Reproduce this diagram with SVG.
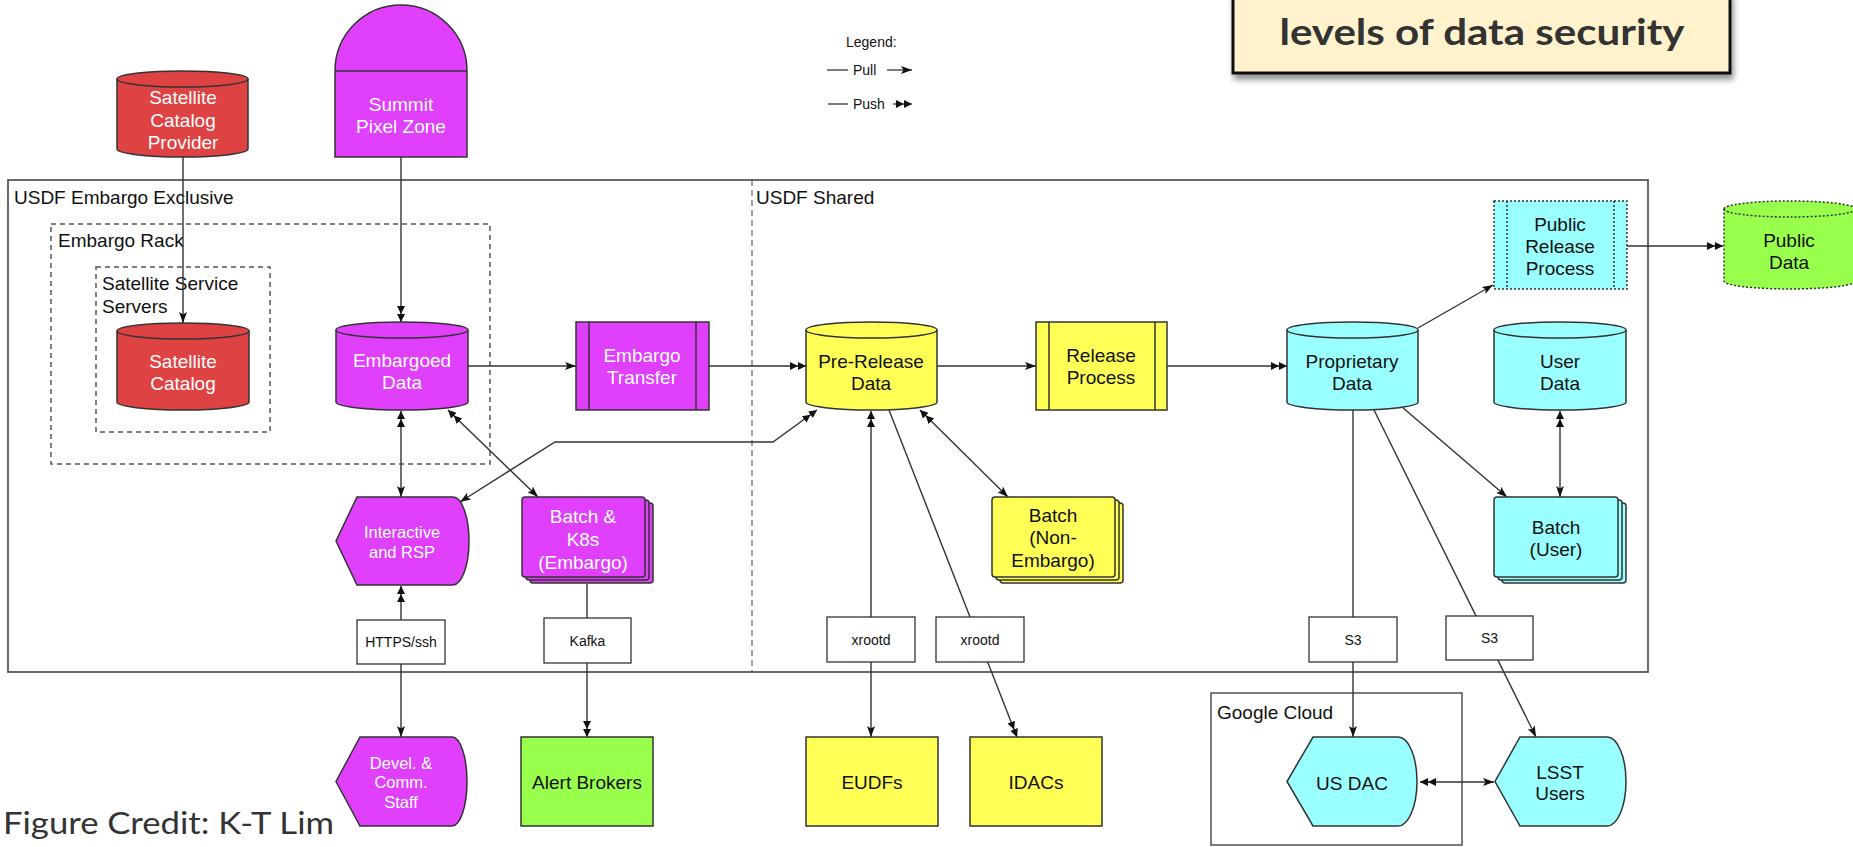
<svg xmlns="http://www.w3.org/2000/svg" width="1853" height="847" viewBox="0 0 1853 847">
<style>
text{font-family:"Liberation Sans",Arial,sans-serif;}
.lbl{font-size:19px;text-anchor:middle;dominant-baseline:central;}
.sm{font-size:16.5px;text-anchor:middle;dominant-baseline:central;}
.w{fill:#ffffff;}
.k{fill:#111111;}
.frameT{font-size:19px;fill:#111;}
.node{stroke:#333;stroke-width:1.5;}
.red{fill:#DF4242;}
.mag{fill:#E040FB;}
.yel{fill:#FFFF55;}
.cyn{fill:#99FFFF;}
.grn{fill:#99FF4D;}
.edge{fill:none;stroke:#333;stroke-width:1.4;}
.ebox{fill:#fff;stroke:#333;stroke-width:1.3;}
.etxt{font-size:14px;text-anchor:middle;dominant-baseline:central;fill:#111;}
.dot{stroke-dasharray:2,2;}
</style>
<defs>
<marker id="pull" viewBox="0 0 11 8" refX="11" refY="4" markerWidth="11" markerHeight="8" markerUnits="userSpaceOnUse" orient="auto-start-reverse"><path d="M0,0 L11,4 L0,8 L2.5,4 Z" fill="#111"/></marker>
<marker id="push" viewBox="0 0 16 8" refX="16" refY="4" markerWidth="16" markerHeight="8" markerUnits="userSpaceOnUse" orient="auto-start-reverse"><path d="M0,0 L8,4 L0,8 Z M8,0 L16,4 L8,8 Z" fill="#111"/></marker>
<filter id="shadow" x="-5%" y="-20%" width="115%" height="150%"><feDropShadow dx="2" dy="5" stdDeviation="3" flood-color="#000" flood-opacity="0.45"/></filter>
</defs>
<rect x="0" y="0" width="1853" height="847" fill="#ffffff"/>

<!-- containers -->
<g id="usdf-frame">
<rect x="8" y="180" width="1640" height="492" fill="none" stroke="#444" stroke-width="1.6"/>
<line x1="752" y1="180" x2="752" y2="672" stroke="#444" stroke-width="1" stroke-dasharray="6,4"/>
<text class="frameT" x="14" y="204">USDF Embargo Exclusive</text>
<text class="frameT" x="756" y="204">USDF Shared</text>
</g>
<g id="embargo-rack">
<rect x="51" y="224" width="439" height="240" fill="none" stroke="#555" stroke-width="1.5" stroke-dasharray="5,4"/>
<text class="frameT" x="58" y="247">Embargo Rack</text>
</g>
<g id="satellite-servers">
<rect x="96" y="267" width="174" height="165" fill="none" stroke="#555" stroke-width="1.5" stroke-dasharray="5,4"/>
<text class="frameT" x="102" y="290">Satellite Service</text>
<text class="frameT" x="102" y="313">Servers</text>
</g>
<g id="google-cloud">
<rect x="1211" y="693" width="251" height="152" fill="none" stroke="#444" stroke-width="1.4"/>
<text class="frameT" x="1217" y="719">Google Cloud</text>
</g>

<!-- title and legend -->
<g id="title">
<rect x="1233" y="-6" width="497" height="79" fill="#FFF2CC" stroke="#111" stroke-width="3" filter="url(#shadow)"/>
<text x="1482" y="45" text-anchor="middle" style="font-family:Lato,'Open Sans',sans-serif;font-weight:bold;font-size:36px;fill:#333" textLength="405" lengthAdjust="spacingAndGlyphs">levels of data security</text>
</g>
<g id="legend">
<text x="846" y="47" style="font-size:14px;fill:#111">Legend:</text>
<line x1="827" y1="70" x2="848" y2="70" stroke="#444" stroke-width="1.4"/>
<text x="853" y="75" style="font-size:14px;fill:#111">Pull</text>
<line x1="887" y1="70" x2="912" y2="70" stroke="#444" stroke-width="1.4" marker-end="url(#pull)"/>
<line x1="828" y1="104" x2="848" y2="104" stroke="#444" stroke-width="1.4"/>
<text x="853" y="109" style="font-size:14px;fill:#111">Push</text>
<line x1="893" y1="104" x2="912" y2="104" stroke="#444" stroke-width="1.4" marker-end="url(#push)"/>
</g>
<g id="credit">
<text x="3" y="834" style="font-family:Lato,'Open Sans',sans-serif;font-size:30px;fill:#333" textLength="331" lengthAdjust="spacingAndGlyphs">Figure Credit: K-T Lim</text>
</g>

<!-- connectors -->
<g id="connectors">
<line class="edge" x1="183" y1="157" x2="183" y2="323" marker-end="url(#pull)"/>
<line class="edge" x1="401" y1="157" x2="401" y2="322" marker-end="url(#push)"/>
<line class="edge" x1="468" y1="366" x2="576" y2="366" marker-end="url(#pull)"/>
<line class="edge" x1="709" y1="366" x2="806" y2="366" marker-end="url(#push)"/>
<line class="edge" x1="937" y1="366" x2="1036" y2="366" marker-end="url(#pull)"/>
<line class="edge" x1="1167" y1="366" x2="1287" y2="366" marker-end="url(#push)"/>
<line class="edge" x1="1418" y1="328" x2="1493" y2="285" marker-end="url(#pull)"/>
<line class="edge" x1="1627" y1="246" x2="1723" y2="246" marker-end="url(#push)"/>
<line class="edge" x1="401" y1="411" x2="401" y2="497" marker-start="url(#push)" marker-end="url(#pull)"/>
<line class="edge" x1="448" y1="410" x2="538" y2="497" marker-start="url(#push)" marker-end="url(#pull)"/>
<polyline class="edge" points="817,410 773,442 555,442 460,502" marker-start="url(#push)" marker-end="url(#pull)"/>
<line class="edge" x1="920" y1="410" x2="1008" y2="497" marker-start="url(#push)" marker-end="url(#pull)"/>
<line class="edge" x1="871" y1="411" x2="871" y2="737" marker-start="url(#push)" marker-end="url(#pull)"/>
<line class="edge" x1="889" y1="410" x2="1017" y2="737" marker-end="url(#push)"/>
<line class="edge" x1="1353" y1="410" x2="1353" y2="737" marker-end="url(#pull)"/>
<line class="edge" x1="1374" y1="410" x2="1536" y2="737" marker-end="url(#pull)"/>
<line class="edge" x1="1402" y1="407" x2="1507" y2="497" marker-end="url(#pull)"/>
<line class="edge" x1="1560" y1="411" x2="1560" y2="497" marker-start="url(#push)" marker-end="url(#pull)"/>
<line class="edge" x1="401" y1="586" x2="401" y2="737" marker-start="url(#push)" marker-end="url(#pull)"/>
<line class="edge" x1="587" y1="584" x2="587" y2="737" marker-end="url(#push)"/>
<line class="edge" x1="1420" y1="782" x2="1494" y2="782" marker-start="url(#push)" marker-end="url(#pull)"/>
<rect class="ebox" x="357" y="620" width="88" height="44"/><text class="etxt" x="401" y="642">HTTPS/ssh</text>
<rect class="ebox" x="544" y="618" width="87" height="45"/><text class="etxt" x="587.5" y="640.5">Kafka</text>
<rect class="ebox" x="827" y="617" width="88" height="45"/><text class="etxt" x="871" y="639.5">xrootd</text>
<rect class="ebox" x="936" y="617" width="88" height="45"/><text class="etxt" x="980" y="639.5">xrootd</text>
<rect class="ebox" x="1309" y="617" width="88" height="45"/><text class="etxt" x="1353" y="639.5">S3</text>
<rect class="ebox" x="1446" y="616" width="87" height="44"/><text class="etxt" x="1489.5" y="638">S3</text>
</g>

<!-- nodes -->
<g id="satellite-catalog-provider">
<path class="node red" d="M117,79 A65.5,8 0 0 1 248,79 V149 A65.5,8 0 0 1 117,149 Z"/>
<path class="node" fill="none" d="M117,79 A65.5,8 0 0 0 248,79"/>
<text class="lbl w" x="183" y="97">Satellite</text>
<text class="lbl w" x="183" y="120">Catalog</text>
<text class="lbl w" x="183" y="142">Provider</text>
</g>
<g id="summit-pixel-zone">
<path class="node mag" d="M335,157 V71 A66,66 0 0 1 467,71 V157 Z"/>
<line class="node" x1="335" y1="71" x2="467" y2="71"/>
<text class="lbl w" x="401" y="104">Summit</text>
<text class="lbl w" x="401" y="126">Pixel Zone</text>
</g>
<g id="satellite-catalog">
<path class="node red" d="M117,331 A66,8 0 0 1 249,331 V402 A66,8 0 0 1 117,402 Z"/>
<path class="node" fill="none" d="M117,331 A66,8 0 0 0 249,331"/>
<text class="lbl w" x="183" y="361">Satellite</text>
<text class="lbl w" x="183" y="383">Catalog</text>
</g>
<g id="embargoed-data">
<path class="node mag" d="M336,330 A66,8 0 0 1 468,330 V402 A66,8 0 0 1 336,402 Z"/>
<path class="node" fill="none" d="M336,330 A66,8 0 0 0 468,330"/>
<text class="lbl w" x="402" y="360">Embargoed</text>
<text class="lbl w" x="402" y="382">Data</text>
</g>
<g id="embargo-transfer">
<rect class="node mag" x="576" y="322" width="133" height="88"/>
<line class="node" x1="589" y1="322" x2="589" y2="410"/>
<line class="node" x1="696" y1="322" x2="696" y2="410"/>
<text class="lbl w" x="642" y="355">Embargo</text>
<text class="lbl w" x="642" y="377">Transfer</text>
</g>
<g id="pre-release-data">
<path class="node yel" d="M806,330 A65.5,8 0 0 1 937,330 V402 A65.5,8 0 0 1 806,402 Z"/>
<path class="node" fill="none" d="M806,330 A65.5,8 0 0 0 937,330"/>
<text class="lbl k" x="871" y="361">Pre-Release</text>
<text class="lbl k" x="871" y="383">Data</text>
</g>
<g id="release-process">
<rect class="node yel" x="1036" y="322" width="131" height="88"/>
<line class="node" x1="1049" y1="322" x2="1049" y2="410"/>
<line class="node" x1="1155" y1="322" x2="1155" y2="410"/>
<text class="lbl k" x="1101" y="355">Release</text>
<text class="lbl k" x="1101" y="377">Process</text>
</g>
<g id="proprietary-data">
<path class="node cyn" d="M1287,330 A65.5,8 0 0 1 1418,330 V402 A65.5,8 0 0 1 1287,402 Z"/>
<path class="node" fill="none" d="M1287,330 A65.5,8 0 0 0 1418,330"/>
<text class="lbl k" x="1352" y="361">Proprietary</text>
<text class="lbl k" x="1352" y="383">Data</text>
</g>
<g id="user-data">
<path class="node cyn" d="M1494,330 A66,8 0 0 1 1626,330 V402 A66,8 0 0 1 1494,402 Z"/>
<path class="node" fill="none" d="M1494,330 A66,8 0 0 0 1626,330"/>
<text class="lbl k" x="1560" y="361">User</text>
<text class="lbl k" x="1560" y="383">Data</text>
</g>
<g id="public-release-process">
<rect class="node cyn dot" x="1494" y="201" width="133" height="88"/>
<line class="node dot" x1="1507" y1="201" x2="1507" y2="289"/>
<line class="node dot" x1="1614" y1="201" x2="1614" y2="289"/>
<text class="lbl k" x="1560" y="224">Public</text>
<text class="lbl k" x="1560" y="246">Release</text>
<text class="lbl k" x="1560" y="268">Process</text>
</g>
<g id="public-data">
<path class="node grn dot" d="M1724,209 A66,8 0 0 1 1856,209 V281 A66,8 0 0 1 1724,281 Z"/>
<path class="node dot" fill="none" d="M1724,209 A66,8 0 0 0 1856,209"/>
<text class="lbl k" x="1789" y="240">Public</text>
<text class="lbl k" x="1789" y="262">Data</text>
</g>
<g id="interactive-rsp">
<path class="node mag" d="M357,497 H453 A16,44 0 0 1 453,585 H357 L336,541 Z"/>
<text class="sm w" x="402" y="532">Interactive</text>
<text class="sm w" x="402" y="552">and RSP</text>
</g>
<g id="batch-k8s-embargo">
<rect class="node mag" x="530" y="503" width="123" height="80" rx="3"/>
<rect class="node mag" x="526" y="500" width="123" height="80" rx="3"/>
<rect class="node mag" x="522" y="497" width="123" height="80" rx="3"/>
<text class="lbl w" x="583" y="516">Batch &amp;</text>
<text class="lbl w" x="583" y="539">K8s</text>
<text class="lbl w" x="583" y="562">(Embargo)</text>
</g>
<g id="batch-non-embargo">
<rect class="node yel" x="1000" y="503" width="123" height="80" rx="3"/>
<rect class="node yel" x="996" y="500" width="123" height="80" rx="3"/>
<rect class="node yel" x="992" y="497" width="123" height="80" rx="3"/>
<text class="lbl k" x="1053" y="515">Batch</text>
<text class="lbl k" x="1053" y="537">(Non-</text>
<text class="lbl k" x="1053" y="560">Embargo)</text>
</g>
<g id="batch-user">
<rect class="node cyn" x="1502" y="503" width="124" height="80" rx="3"/>
<rect class="node cyn" x="1498" y="500" width="124" height="80" rx="3"/>
<rect class="node cyn" x="1494" y="497" width="124" height="80" rx="3"/>
<text class="lbl k" x="1556" y="527">Batch</text>
<text class="lbl k" x="1556" y="549">(User)</text>
</g>
<g id="devel-comm-staff">
<path class="node mag" d="M360,737 H452 A15,44.5 0 0 1 452,826 H360 L336,781.5 Z"/>
<text class="sm w" x="401" y="763">Devel. &amp;</text>
<text class="sm w" x="401" y="782">Comm.</text>
<text class="sm w" x="401" y="802">Staff</text>
</g>
<g id="alert-brokers">
<rect class="node grn" x="521" y="737" width="132" height="89"/>
<text class="lbl k" x="587" y="782">Alert Brokers</text>
</g>
<g id="eudfs">
<rect class="node yel" x="806" y="737" width="132" height="89"/>
<text class="lbl k" x="872" y="782">EUDFs</text>
</g>
<g id="idacs">
<rect class="node yel" x="970" y="737" width="132" height="89"/>
<text class="lbl k" x="1036" y="782">IDACs</text>
</g>
<g id="us-dac">
<path class="node cyn" d="M1313,737 H1398 A19,44.5 0 0 1 1398,826 H1313 L1287,781.5 Z"/>
<text class="lbl k" x="1352" y="783">US DAC</text>
</g>
<g id="lsst-users">
<path class="node cyn" d="M1520,737 H1607 A19,44.5 0 0 1 1607,826 H1520 L1495,781.5 Z"/>
<text class="lbl k" x="1560" y="772">LSST</text>
<text class="lbl k" x="1560" y="793">Users</text>
</g>
</svg>
